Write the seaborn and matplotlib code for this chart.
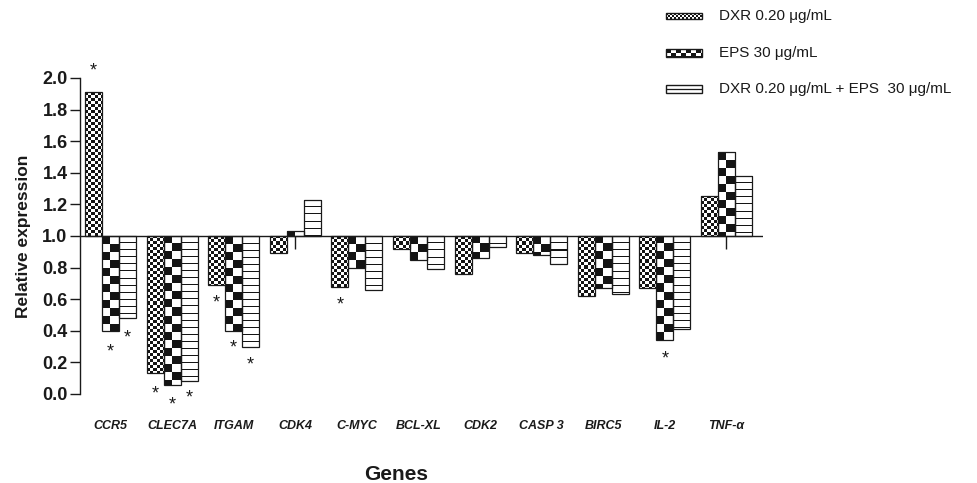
import numpy as np
import pandas as pd
import matplotlib
matplotlib.use("Agg")
import matplotlib.pyplot as plt
import matplotlib.transforms as mtransforms
from matplotlib.patches import Rectangle
import seaborn as sns

# ---------------- data ----------------
genes = ["CCR5", "CLEC7A", "ITGAM", "CDK4", "C-MYC", "BCL-XL",
         "CDK2", "CASP 3", "BIRC5", "IL-2", "TNF-\u03b1"]
series = ["DXR 0.20 \u03bcg/mL", "EPS 30 \u03bcg/mL",
          "DXR 0.20 \u03bcg/mL + EPS  30 \u03bcg/mL"]
dxr = [1.91, 0.13, 0.69, 0.89, 0.68, 0.915, 0.76, 0.89, 0.62, 0.67, 1.255]
eps = [0.40, 0.055, 0.40, 1.03, 0.80, 0.85, 0.86, 0.88, 0.67, 0.34, 1.53]
combo = [0.48, 0.08, 0.30, 1.23, 0.66, 0.79, 0.93, 0.82, 0.63, 0.41, 1.38]
baseline = 1.0
y_ticks = [0.0, 0.2, 0.4, 0.6, 0.8, 1.0, 1.2, 1.4, 1.6, 1.8, 2.0]
# significance asterisks: (gene, series index, y value of the mark)
stars = [("CCR5", 0, 2.06), ("CCR5", 1, 0.285), ("CCR5", 2, 0.37),
         ("CLEC7A", 0, 0.015), ("CLEC7A", 1, -0.055), ("CLEC7A", 2, -0.01),
         ("ITGAM", 0, 0.595), ("ITGAM", 1, 0.31), ("ITGAM", 2, 0.20),
         ("C-MYC", 0, 0.58), ("IL-2", 1, 0.235)]
# error whiskers below baseline: (gene, series index, lower value)
whiskers = [("CDK4", 1, 0.92), ("TNF-\u03b1", 1, 0.92)]

# ---------------- style ----------------
sns.set_style("ticks")
plt.rcParams["font.family"] = ["Liberation Sans", "DejaVu Sans"]
INK = "#1a1a1a"

W, H = 978, 483
fig = plt.figure(figsize=(W / 100, H / 100), dpi=100)
ax_left, ax_right, ax_top, ax_bot = 80, 763, 78, 394
ax = fig.add_axes([ax_left / W, 1 - ax_bot / H,
                   (ax_right - ax_left) / W, (ax_bot - ax_top) / H])

df = pd.DataFrame({
    "gene": genes * 3,
    "treatment": np.repeat(series, len(genes)),
    "value": dxr + eps + combo,
})
df["delta"] = df["value"] - baseline

sns.barplot(data=df, x="gene", y="delta", hue="treatment", order=genes,
            hue_order=series, palette=["white"] * 3, saturation=1,
            width=0.83, errorbar=None, legend=False, bottom=baseline,
            edgecolor=INK, linewidth=0.9, ax=ax)

xmin = -0.495
xmax = xmin + (ax_right - ax_left) / 61.6
ax.set_xlim(xmin, xmax)
ax.set_ylim(0, 2.0)

px_x = (ax_right - ax_left) / (xmax - xmin)
px_y = (ax_bot - ax_top) / 2.0


def pattern(kind, wpx, hpx):
    yy, xx = np.mgrid[0:hpx, 0:wpx]
    if kind == 0:
        dark = ((xx // 3 + yy // 3) % 2) == 0
    elif kind == 1:
        dark = ((xx // 8 + yy // 8) % 2) == 0
    else:
        dark = (yy % 7) == 0
        dark |= (xx == 0) | (xx == wpx - 1)
    return np.where(dark, 0.08, 1.0)


for k, cont in enumerate(ax.containers):
    for p in cont.patches:
        x0, w = p.get_x(), p.get_width()
        y0, h = p.get_y(), p.get_height()
        wpx = max(1, int(round(w * px_x)))
        hpx = max(1, int(round(abs(h) * px_y)))
        img = pattern(k, wpx, hpx)
        lo, hi = min(y0, y0 + h), max(y0, y0 + h)
        im = ax.imshow(img, extent=(x0, x0 + w, lo, hi), aspect="auto",
                       cmap="gray", vmin=0, vmax=1, interpolation="nearest",
                       origin="upper", zorder=2)
        im.set_clip_path(p)
        p.set_facecolor("none")
        p.set_zorder(3)

ax.set_xlim(xmin, xmax)
ax.set_ylim(0, 2.0)

ax.axhline(baseline, color=INK, lw=1.0, zorder=4)


def bar_center(gene, k):
    p = ax.containers[k].patches[genes.index(gene)]
    return p.get_x() + p.get_width() / 2


for g, k, low in whiskers:
    ax.vlines(bar_center(g, k), low, baseline, color=INK, lw=1.0, zorder=4)

fs_star = 13
star_tr = mtransforms.offset_copy(ax.transData, fig=fig, y=-0.39 * fs_star,
                                  units="points")
for g, k, yv in stars:
    ax.text(bar_center(g, k), yv, "*", transform=star_tr, ha="center",
            va="baseline", fontsize=fs_star, color=INK, clip_on=False)

# axes styling
for s in ["top", "right", "bottom"]:
    ax.spines[s].set_visible(False)
ax.spines["left"].set_color(INK)
ax.spines["left"].set_linewidth(1.0)
ax.spines["left"].set_bounds(0, 2.0)
ax.set_yticks(y_ticks)
ax.set_yticklabels([f"{t:.1f}" for t in y_ticks], fontweight="bold",
                   fontsize=13)
ax.tick_params(axis="y", length=7, width=1.0, color=INK, pad=2,
               labelcolor=INK)
ax.set_xticks(range(len(genes)))
ax.set_xticklabels(genes, fontweight="bold", fontstyle="italic", fontsize=9)
ax.tick_params(axis="x", length=0, pad=19, labelcolor=INK)

ax.set_ylabel("Relative expression", fontweight="bold", fontsize=12.5,
              color=INK)
ax.yaxis.set_label_coords(-0.072, 0.5)
ax.set_xlabel("Genes", fontweight="bold", fontsize=15, color=INK)
ax.xaxis.set_label_coords(0.4627, -0.225)

# ---------------- legend (custom swatches) ----------------
leg_rows = [16, 53, 89]
sw_h = [6, 8, 8]
for k, (lab, yc) in enumerate(zip(series, leg_rows)):
    hh = sw_h[k]
    sw = fig.add_axes([666 / W, 1 - (yc + hh / 2) / H, 36 / W, hh / H])
    sw.set_axis_off()
    if k == 0:
        yy, xx = np.mgrid[0:hh, 0:36]
        img = np.where(((xx // 2 + yy // 2) % 2) == 0, 0.08, 1.0)
        sw.imshow(img, aspect="auto", cmap="gray", vmin=0, vmax=1,
                  interpolation="nearest", extent=(0, 1, 0, 1))
    elif k == 1:
        yy, xx = np.mgrid[0:hh, 0:36]
        img = np.where(((xx // 5 + yy // 4) % 2) == 0, 0.08, 1.0)
        img[0, :] = 0.08
        img[-1, :] = 0.08
        sw.imshow(img, aspect="auto", cmap="gray", vmin=0, vmax=1,
                  interpolation="nearest", extent=(0, 1, 0, 1))
    else:
        sw.hlines(0.5, 0, 1, color=INK, lw=0.9)
    sw.add_patch(Rectangle((0, 0), 1, 1, fill=False, edgecolor=INK, lw=1.0,
                           transform=sw.transAxes, clip_on=False))
    sw.set_xlim(0, 1)
    sw.set_ylim(0, 1)
    fig.text(719 / W, 1 - yc / H, lab, ha="left", va="center", fontsize=11,
             color=INK)

fig.savefig("out.png", dpi=100)
